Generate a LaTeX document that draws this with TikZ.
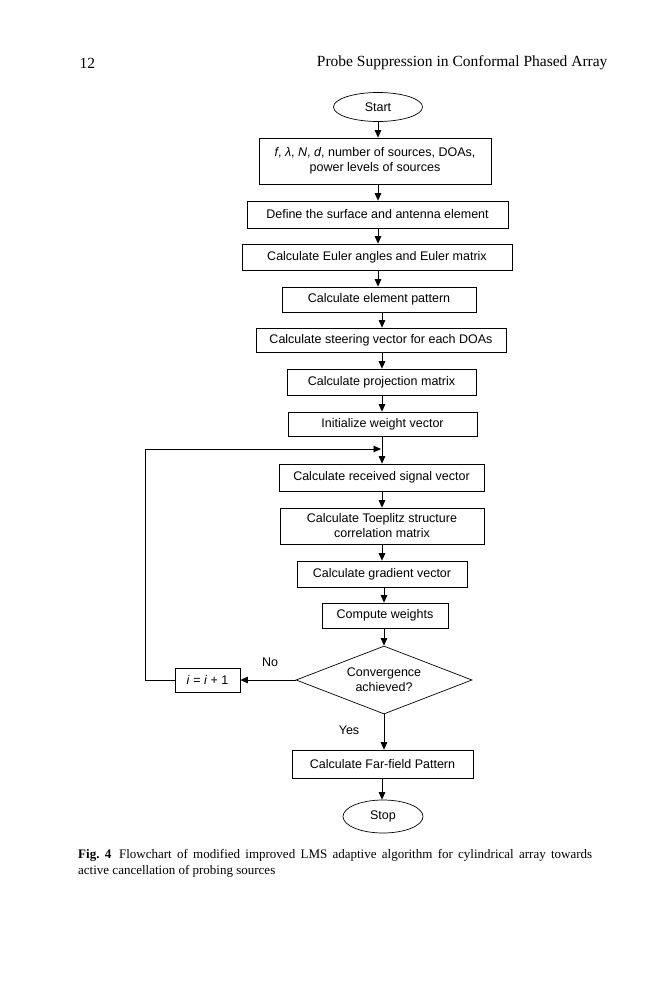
\documentclass[tikz,border=0pt]{standalone}
\usepackage{fontspec}
\setmainfont{Liberation Serif}
\newfontfamily\boxfont{Liberation Sans}
\usetikzlibrary{shapes.geometric,arrows.meta}

\tikzset{
  box/.style={draw, line width=0.7pt, inner sep=0pt, align=center, font=\boxfont\fontsize{12.5}{15}\selectfont},
  term/.style={box, ellipse},
  decision/.style={box, diamond, aspect=2.6},
  arr/.style={-{Triangle[length=7.5pt,width=6.5pt]}, line width=0.9pt},
  lbl/.style={font=\boxfont\fontsize{12.5}{15}\selectfont}
}

\begin{document}
\begin{tikzpicture}[x=1pt, y=-1pt]
    \useasboundingbox (0,0) rectangle (659,1000);

    % page header
    \node[anchor=west, font=\fontsize{15.5}{18}\selectfont] (pagenum) at (76,63) {12};
    \node[anchor=east, font=\fontsize{15.5}{18}\selectfont] (runhead) at (611,63) {Probe Suppression in Conformal Phased Array};

    % spine of the chart
    \coordinate (sA) at (378,0);
    \coordinate (sB) at (382,0);

    % steps
    \node[term, minimum width=89, minimum height=29] (start) at (378,107) {Start};
    \node[box, minimum width=232, minimum height=46] (inputs) at (375,161)
        {\textit{f}, \textit{λ}, \textit{N}, \textit{d}, number of sources, DOAs,\\power levels of sources};
    \node[box, minimum width=261, minimum height=27] (surface) at (377.5,214.5) {Define the surface and antenna element};
    \node[box, minimum width=270, minimum height=26] (euler) at (377,257) {Calculate Euler angles and Euler matrix};
    \node[box, minimum width=194, minimum height=25] (element) at (379,299.5) {Calculate element pattern};
    \node[box, minimum width=250, minimum height=24] (steering) at (381,340) {Calculate steering vector for each DOAs};
    \node[box, minimum width=189, minimum height=26] (proj) at (381.5,382) {Calculate projection matrix};
    \node[box, minimum width=189, minimum height=24] (init) at (382.5,424) {Initialize weight vector};
    \node[box, minimum width=205, minimum height=27] (signal) at (381.5,477.5) {Calculate received signal vector};
    \node[box, minimum width=204, minimum height=36] (toeplitz) at (382,526)
        {Calculate Toeplitz structure\\correlation matrix};
    \node[box, minimum width=170, minimum height=26] (gradient) at (382,574) {Calculate gradient vector};
    \node[box, minimum width=126, minimum height=25] (weights) at (385,615.5) {Compute weights};
    \node[decision, minimum width=176, minimum height=68] (conv) at (384,680) {Convergence\\achieved?};
    \node[box, minimum width=65, minimum height=24] (inc) at (207.5,680) {\textit{i} = \textit{i} + 1};
    \node[box, minimum width=181, minimum height=28] (farfield) at (382.5,764) {Calculate Far-field Pattern};
    \node[term, minimum width=80, minimum height=33] (stop) at (383,816.5) {Stop};

    % arrows
    \draw[arr] (start.south -| sA) -- (inputs.north -| sA);
    \draw[arr] (inputs.south -| sA) -- (surface.north -| sA);
    \draw[arr] (surface.south -| sA) -- (euler.north -| sA);
    \draw[arr] (euler.south -| sA) -- (element.north -| sA);
    \draw[arr] (element.south -| sB) -- (steering.north -| sB);
    \draw[arr] (steering.south -| sB) -- (proj.north -| sB);
    \draw[arr] (proj.south -| sB) -- (init.north -| sB);
    \draw[arr] (init.south -| sB) -- (signal.north -| sB);
    \draw[arr] (signal.south -| sB) -- (toeplitz.north -| sB);
    \draw[arr] (toeplitz.south) -- (gradient.north);
    \draw[arr] (gradient.south -| conv) -- (weights.north -| conv);
    \draw[arr] (weights.south -| conv) -- (conv.north);
    \draw[arr] (conv.south) -- (farfield.north -| conv);
    \draw[arr] (farfield.south -| sB) -- (stop.north -| sB);

    % loop back
    \coordinate (back) at (145,449);
    \coordinate (join) at (382,449);
    \draw[arr] (conv.west) -- (inc.east);
    \draw[line width=0.9pt] (inc.west) -| (back);
    \draw[arr] (back) -- ([xshift=-1pt]join);

    % labels
    \node[lbl] (no) at (270,662) {No};
    \node[lbl] (yes) at (349,730) {Yes};

    % caption
    \node[anchor=north west, text width=514, align=justify, inner sep=0pt,
          font=\fontsize{13}{16}\selectfont] (caption) at (78,849)
        {\textbf{Fig.~4}\hspace{0.6em}Flowchart of modified improved LMS adaptive algorithm for cylindrical array towards\linebreak active cancellation of probing sources};

\end{tikzpicture}
\end{document}
